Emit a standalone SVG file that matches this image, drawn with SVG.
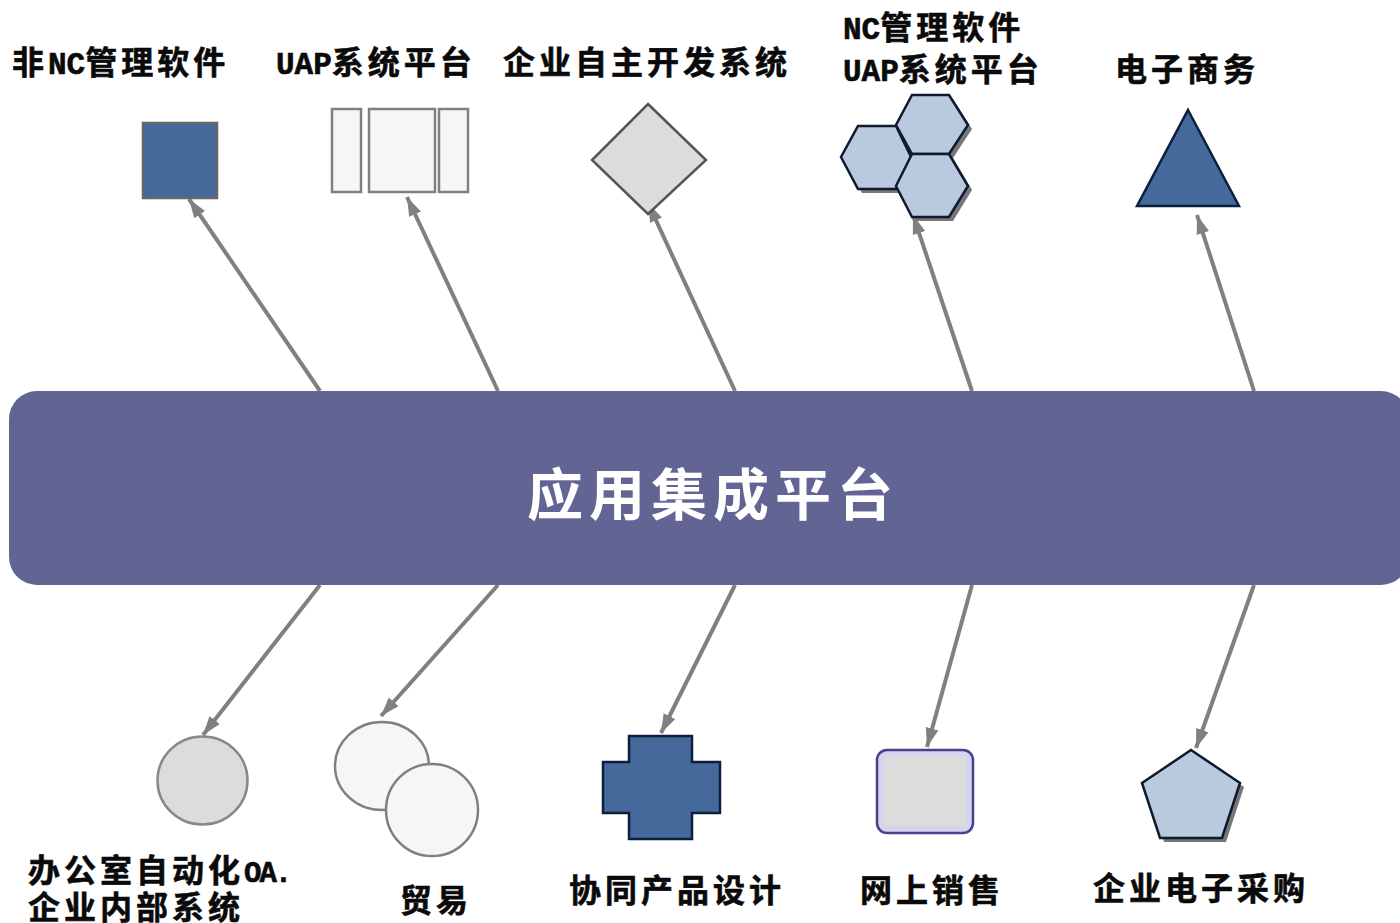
<svg xmlns="http://www.w3.org/2000/svg" width="1400" height="923" viewBox="0 0 1400 923">
<style>
.t{font-family:"Noto Sans CJK SC","Liberation Sans",sans-serif;font-weight:700;font-size:32px;letter-spacing:4px;fill:#0a0a0a;stroke:#0a0a0a;stroke-width:.6px}
.l{letter-spacing:0;font-size:31px;font-family:"Liberation Mono","Noto Sans CJK SC",monospace}
.n{letter-spacing:-2px;font-size:29px;font-family:"Liberation Mono","Noto Sans CJK SC",monospace}
.title{font-family:"Noto Sans CJK SC","Liberation Sans",sans-serif;font-weight:700;font-size:56px;letter-spacing:6px;fill:#fff}
.c{stroke:#808080;stroke-width:4;fill:none;marker-end:url(#a)}
.blue{fill:#44699a;stroke:#0e1f3c;stroke-width:2.5}
.pale{fill:#f6f6f6;stroke:#808080;stroke-width:2.5}
.grey{fill:#dcdcdc;stroke:#555;stroke-width:2.5}
.steel{fill:#b9c9de;stroke:#0e1a2e;stroke-width:2.5}
.sh{fill:#777;stroke:none}
</style>
<defs>
<marker id="a" markerUnits="userSpaceOnUse" markerWidth="20" markerHeight="16" refX="19" refY="8" orient="auto">
<path d="M0 1.500L19 8L0 14.500Z" fill="#808080"/>
</marker>
</defs>
<rect width="1400" height="923" fill="#fff"/>
<g id="connectors">
<line class="c" x1="320" y1="391" x2="189" y2="199"/>
<line class="c" x1="498" y1="391" x2="407" y2="197"/>
<line class="c" x1="735" y1="391" x2="648" y2="203"/>
<line class="c" x1="972" y1="391" x2="913" y2="215"/>
<line class="c" x1="1254" y1="391" x2="1197" y2="215"/>
<line class="c" x1="320" y1="585" x2="203" y2="735"/>
<line class="c" x1="498" y1="585" x2="381" y2="716"/>
<line class="c" x1="735" y1="585" x2="661" y2="733"/>
<line class="c" x1="972" y1="585" x2="927" y2="747"/>
<line class="c" x1="1254" y1="585" x2="1196" y2="748"/>
</g>
<g id="platform">
<rect x="9" y="391" width="1400" height="194" rx="28" fill="#626493"/>
<text class="title" x="527" y="515">应用集成平台</text>
</g>
<g id="node-non-nc">
<rect x="143" y="123" width="74" height="75" fill="#44699a" stroke="#666" stroke-width="2.5"/>
<text class="t" x="12" y="74">非<tspan class="l">NC</tspan>管理软件</text>
</g>
<g id="node-uap">
<rect class="pale" x="332" y="109" width="29" height="83"/>
<rect class="pale" x="369" y="109" width="66" height="83"/>
<rect class="pale" x="439" y="109" width="29" height="83"/>
<text class="t" x="276" y="74"><tspan class="l">UAP</tspan>系统平台</text>
</g>
<g id="node-self-dev">
<polygon class="grey" points="648,104 706,160 648,214 592,160"/>
<text class="t" x="503" y="74">企业自主开发系统</text>
</g>
<g id="node-nc-uap">
<g transform="translate(4,4)">
<polygon class="sh" points="912,95 949,95 968,125 949,154 912,154 896,125"/>
<polygon class="sh" points="912,154 949,154 968,186 949,217 912,217 896,186"/>
<polygon class="sh" points="858,126 896,126 911,157 896,189 858,189 841,157"/>
</g>
<polygon class="steel" points="858,126 896,126 911,157 896,189 858,189 841,157"/>
<polygon class="steel" points="912,95 949,95 968,125 949,154 912,154 896,125"/>
<polygon class="steel" points="912,154 949,154 968,186 949,217 912,217 896,186"/>
<text class="t" x="843" y="39"><tspan class="l">NC</tspan>管理软件</text>
<text class="t" x="843" y="81"><tspan class="l">UAP</tspan>系统平台</text>
</g>
<g id="node-ecommerce">
<polygon class="blue" points="1188,110 1239,206 1137,206"/>
<text class="t" x="1115" y="81">电子商务</text>
</g>
<g id="node-oa">
<ellipse cx="202.500" cy="780.500" rx="45" ry="44" fill="#dcdcdc" stroke="#888" stroke-width="2.5"/>
<text class="t" x="28" y="882">办公室自动化<tspan class="n">OA.</tspan></text>
<text class="t" x="28" y="919">企业内部系统</text>
</g>
<g id="node-trade">
<ellipse class="pale" cx="382" cy="766" rx="47" ry="44"/>
<ellipse class="pale" cx="432" cy="810" rx="46" ry="46"/>
<text class="t" x="400" y="912">贸易</text>
</g>
<g id="node-collab">
<polygon class="blue" points="629,736 692,736 692,762 720,762 720,813 692,813 692,839 629,839 629,813 603,813 603,762 629,762"/>
<text class="t" x="569" y="902">协同产品设计</text>
</g>
<g id="node-online">
<rect x="877" y="750" width="96" height="83" rx="10" fill="#d4d4f0" stroke="#44448a" stroke-width="2.5"/>
<rect x="884" y="756" width="82" height="70" fill="#dcdcdc"/>
<text class="t" x="860" y="902">网上销售</text>
</g>
<g id="node-purchase">
<polygon class="sh" transform="translate(4,4)" points="1191,750 1240,783 1222,838 1160,838 1142,783"/>
<polygon class="steel" points="1191,750 1240,783 1222,838 1160,838 1142,783"/>
<text class="t" x="1093" y="900">企业电子采购</text>
</g>
</svg>
